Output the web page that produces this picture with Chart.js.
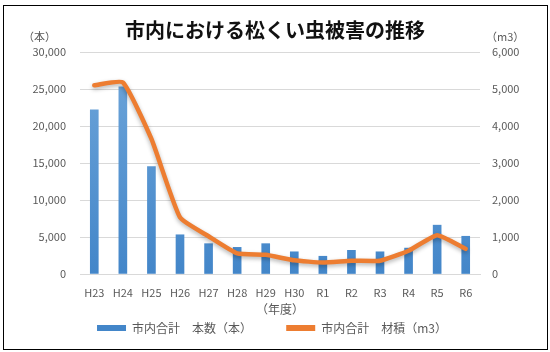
<!DOCTYPE html>
<html lang="ja">
<head>
<meta charset="utf-8">
<script src="https://cdn.jsdelivr.net/npm/chart.js@4/dist/chart.umd.min.js"></script>
<style>
  html, body { margin: 0; padding: 0; background: #fff; }
  #wrap { position: relative; width: 550px; height: 352px; font-family: "Noto Sans CJK JP", sans-serif; }
  #frame { position: absolute; left: 3px; top: 5px; width: 543px; height: 343px; border: 1px solid #000; }
  #title { position: absolute; left: 0; width: 550px; top: 16px; text-align: center; font-size: 20px; font-weight: bold; color: #111; line-height: 28px; }
  .unit { position: absolute; top: 28px; font-size: 11px; color: #595959; line-height: 16px; }
  canvas { position: absolute; left: 0; top: 0; }
</style>
</head>
<body>
<div id="wrap">
  <canvas id="grafica" width="550" height="352"></canvas>
  <div id="frame"></div>
  <div id="title">市内における松くい虫被害の推移</div>
  <div class="unit" style="left:23px">（本）</div>
  <div class="unit" style="left:486px">（m3）</div>
</div>
<script>
const nendo = ['H23', 'H24', 'H25', 'H26', 'H27', 'H28', 'H29', 'H30', 'R1', 'R2', 'R3', 'R4', 'R5', 'R6'];
const honsu = [22200, 25300, 14500, 5300, 4100, 3600, 4100, 3000, 2400, 3200, 3000, 3500, 6600, 5100];
const zaiseki = [5100, 5180, 3650, 1530, 1020, 560, 520, 370, 310, 360, 360, 630, 1050, 680];

const fuente = '"Noto Sans CJK JP", sans-serif';
const gris = '#595959';

// sombra de la linea
const sombra = {
    id: 'sombra',
    beforeDatasetDraw(chart, args) {
        if (args.index === 1) {
            chart.ctx.save();
            chart.ctx.shadowColor = 'rgba(0,0,0,0.3)';
            chart.ctx.shadowBlur = 4;
            chart.ctx.shadowOffsetY = 2;
        }
    },
    afterDatasetDraw(chart, args) {
        if (args.index === 1) chart.ctx.restore();
    }
};

const ctx = document.getElementById('grafica').getContext('2d');
new Chart(ctx, {
    data: {
        labels: nendo,
        datasets: [{
            type: 'bar',
            label: '市内合計　本数（本）',
            data: honsu,
            yAxisID: 'y',
            order: 2,
            barThickness: 8,
            backgroundColor: c => {
                const area = c.chart.chartArea;
                if (!area) return '#5b9bd5';
                const g = c.chart.ctx.createLinearGradient(0, area.top, 0, area.bottom);
                g.addColorStop(0, '#6fa6da');
                g.addColorStop(1, '#4386c9');
                return g;
            }
        }, {
            type: 'line',
            label: '市内合計　材積（m3）',
            data: zaiseki,
            yAxisID: 'y1',
            order: 1,
            borderColor: '#ed7d31',
            backgroundColor: '#ed7d31',
            borderWidth: 4.5,
            pointRadius: 0,
            tension: 0.15,
            borderCapStyle: 'round',
            borderJoinStyle: 'round'
        }]
    },
    options: {
        responsive: false,
        animation: false,
        layout: { padding: { top: 52, bottom: 8 } },
        plugins: {
            tooltip: { enabled: false },
            legend: {
                position: 'bottom',
                labels: {
                    boxWidth: 29,
                    boxHeight: 6,
                    padding: 4.2,
                    color: gris,
                    font: { family: fuente, size: 12 },
                    sort: (a, b) => a.datasetIndex - b.datasetIndex,
                    generateLabels: chart => {
                        const items = Chart.defaults.plugins.legend.labels.generateLabels(chart);
                        // espacio extra entre elementos
                        items.forEach(it => {
                            it.text += it.datasetIndex === 0 ? '　　　' : '\u2002';
                            it.lineWidth = 0;
                        });
                        return items;
                    }
                }
            }
        },
        scales: {
            x: {
                afterFit: s => { s.height = 43.8; },
                grid: { display: false, drawTicks: false },
                border: { color: '#d9d9d9' },
                ticks: { color: gris, padding: 11.9, maxRotation: 0, font: { family: fuente, size: 11 } },
                title: { display: true, text: '（年度）', color: gris, padding: { top: 0, bottom: 1.6 }, font: { family: fuente, size: 12 } }
            },
            y: {
                position: 'left',
                min: 0, max: 30000,
                afterFit: s => { s.width = 80; },
                grid: { color: '#d9d9d9', drawTicks: false },
                border: { display: false },
                ticks: {
                    stepSize: 5000, padding: 14, color: gris,
                    font: { family: fuente, size: 11 },
                    callback: v => v.toLocaleString('en-US')
                }
            },
            y1: {
                position: 'right',
                min: 0, max: 6000,
                afterFit: s => { s.width = 70; },
                grid: { display: false, drawTicks: false },
                border: { display: false },
                ticks: {
                    stepSize: 1000, padding: 12, color: gris,
                    font: { family: fuente, size: 11 },
                    callback: v => v.toLocaleString('en-US')
                }
            }
        }
    },
    plugins: [sombra]
});
</script>
</body>
</html>
